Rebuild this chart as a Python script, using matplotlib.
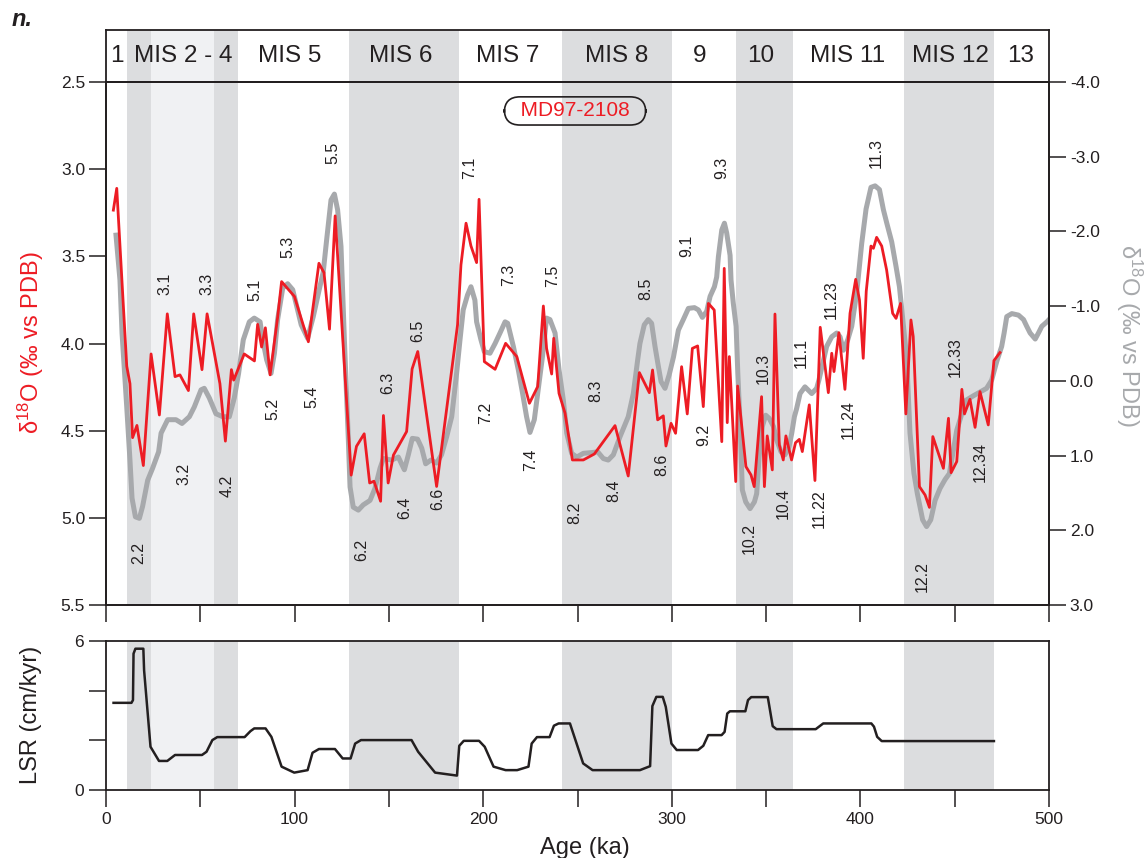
import matplotlib
matplotlib.use('Agg')
import matplotlib.pyplot as plt

plt.rcParams['font.family'] = ['Liberation Sans', 'DejaVu Sans']
plt.rcParams['mathtext.default'] = 'regular'

RED = '#ed1c24'
GRAY = '#a7a9ac'
INK = '#231f20'
BAND = '#dcdddf'
LIGHT = '#f0f1f3'

# MD97-2108 planktonic d18O (left axis)
red_age = [3.9, 5.7, 11.0, 12.7, 14.1, 16.4, 19.8, 23.9, 28.3, 32.5, 36.6, 39.2, 43.7, 46.5,
           50.9, 53.6, 60.4, 63.3, 66.5, 67.7, 73.3, 78.7, 80.4, 82.5, 84.5, 87.0, 91.0, 93.1,
           99.9, 107.3, 112.9, 115.6, 118.5, 121.5, 130.0, 132.8, 136.9, 139.8, 142.1, 145.6,
           147.1, 149.6, 152.4, 159.4, 162.3, 165.3, 175.3, 186.4, 188.2, 190.9, 193.5, 196.5,
           197.8, 200.6, 206.3, 211.9, 217.8, 224.5, 228.9, 231.9, 233.6, 236.3, 237.4, 240.2,
           243.4, 247.3, 253.1, 258.9, 269.9, 276.9, 282.8, 288.1, 289.8, 292.5, 295.5, 296.9,
           299.6, 302.0, 305.2, 308.2, 310.9, 313.7, 316.7, 319.4, 322.5, 326.5, 327.8, 329.4,
           330.5, 333.9, 334.9, 339.3, 342.0, 343.7, 347.6, 349.1, 350.6, 353.3, 354.7, 357.0,
           359.1, 360.5, 363.5, 365.6, 367.6, 369.2, 372.9, 375.9, 378.7, 383.0, 384.8, 386.0,
           388.6, 391.8, 394.5, 397.5, 399.5, 401.5, 403.1, 405.6, 406.9, 408.6, 411.3, 413.9,
           417.1, 418.9, 421.3, 424.1, 426.8, 428.0, 431.3, 434.3, 436.6, 438.4, 444.0, 446.7,
           448.1, 451.1, 453.8, 455.2, 458.1, 460.8, 463.4, 467.8, 470.8, 474.0]
red_d18o = [3.235, 3.11, 4.13, 4.23, 4.54, 4.47, 4.70, 4.06, 4.41, 3.83, 4.19, 4.18, 4.27, 3.83,
            4.15, 3.83, 4.23, 4.56, 4.15, 4.21, 4.06, 4.10, 3.89, 4.02, 3.91, 4.18, 3.85, 3.645,
            3.73, 3.99, 3.54, 3.594, 3.918, 3.268, 4.755, 4.59, 4.518, 4.80, 4.79, 4.905,
            4.413, 4.80, 4.64, 4.505, 4.146, 4.046, 4.82, 3.893, 3.549, 3.31, 3.44, 3.536,
            3.173, 4.104, 4.148, 3.999, 4.075, 4.343, 4.247, 3.785, 4.028, 4.175, 3.97, 4.286,
            4.40, 4.668, 4.668, 4.634, 4.471, 4.76, 4.167, 4.282, 4.152, 4.438, 4.415, 4.588,
            4.458, 4.515, 4.133, 4.404, 4.028, 4.014, 4.362, 3.77, 3.808, 4.563, 3.569, 4.454,
            4.075, 4.792, 4.244, 4.706, 4.754, 4.821, 4.305, 4.821, 4.53, 4.725, 3.831, 4.582,
            4.668, 4.53, 4.668, 4.569, 4.55, 4.62, 4.352, 4.786, 3.907, 4.282, 4.056, 4.161,
            3.938, 4.263, 3.827, 3.632, 3.75, 4.085, 3.70, 3.441, 3.454, 3.391, 3.441, 3.578,
            3.827, 3.856, 3.77, 4.404, 3.865, 3.96, 4.821, 4.869, 4.94, 4.534, 4.716, 4.429,
            4.741, 4.677, 4.263, 4.404, 4.32, 4.481, 4.276, 4.467, 4.098, 4.052]

# benthic stack d18O (right axis)
stack_age = [5.3, 7.4, 8.5, 11.0, 12.7, 13.8, 15.6, 17.7, 19.4, 22.1, 24.7, 27.9, 29.2, 32.7,
             37.1, 40.3, 44.2, 46.8, 50.4, 52.1, 54.8, 58.3, 61.9, 65.4, 68.0, 70.3, 72.8, 76.0,
             78.6, 81.7, 83.1, 85.2, 87.5, 89.3, 91.0, 93.7, 96.3, 99.0, 103.5, 106.9, 109.9,
             112.6, 115.2, 117.0, 119.3, 121.1, 122.8, 124.6, 126.4, 128.5, 129.4, 131.1, 133.8,
             136.4, 140.0, 142.6, 145.3, 147.1, 151.5, 155.0, 158.2, 160.3, 162.4, 165.2, 167.4,
             169.5, 172.3, 175.3, 177.9, 180.6, 183.3, 185.9, 187.7, 189.4, 191.7, 193.5, 195.6,
             196.5, 198.8, 200.6, 203.6, 206.3, 208.9, 211.6, 213.0, 216.0, 218.6, 220.9, 223.0,
             224.8, 227.1, 228.9, 231.4, 233.6, 235.4, 238.1, 240.2, 242.5, 244.3, 246.9, 249.6,
             253.1, 257.5, 260.7, 263.7, 266.3, 269.0, 272.5, 276.9, 279.6, 281.9, 283.1, 285.4,
             287.5, 289.3, 291.1, 292.9, 294.3, 296.4, 298.6, 300.9, 303.5, 306.1, 308.8, 312.0,
             314.1, 316.2, 318.5, 320.3, 322.6, 323.8, 324.7, 326.5, 327.9, 329.1, 330.9, 331.4,
             332.6, 334.1, 335.0, 336.2, 337.4, 339.2, 341.5, 343.8, 345.0, 346.3, 348.0, 349.8,
             351.6, 353.9, 355.6, 357.9, 360.0, 362.2, 363.6, 365.0, 366.2, 368.0, 370.6, 374.2,
             376.8, 378.0, 382.1, 384.8, 387.4, 389.2, 391.0, 393.3, 395.4, 398.1, 400.7, 403.0,
             405.6, 407.8, 410.1, 412.2, 414.0, 416.6, 418.9, 420.7, 422.5, 424.5, 426.3, 428.4,
             430.2, 433.0, 435.1, 437.3, 439.6, 442.2, 444.9, 447.2, 448.4, 451.1, 452.8, 456.0,
             459.9, 463.4, 466.9, 469.6, 472.3, 474.9, 476.2, 477.6, 480.3, 483.8, 486.5, 488.2,
             490.0, 492.7, 494.4, 496.2, 498.9, 500.0]
stack_d18o = [-1.95, -1.35, -0.64, 0.35, 1.06, 1.57, 1.82, 1.84, 1.68, 1.33, 1.17, 0.95, 0.70, 0.52,
              0.52, 0.57, 0.48, 0.35, 0.12, 0.10, 0.23, 0.44, 0.48, 0.48, 0.23, -0.10, -0.55, -0.79,
              -0.84, -0.79, -0.55, -0.28, -0.10, -0.37, -0.82, -1.24, -1.30, -1.22, -0.75, -0.57, -0.86,
              -1.17, -1.46, -1.89, -2.42, -2.50, -2.29, -1.80, -0.55, 0.79, 1.42, 1.69, 1.73,
              1.66, 1.60, 1.44, 1.17, 1.04, 1.06, 1.02, 1.19, 0.99, 0.77, 0.78, 0.90,
              1.11, 1.06, 1.10, 0.99, 0.75, 0.48, -0.10, -0.55, -0.95, -1.15, -1.26, -1.08,
              -0.79, -0.55, -0.39, -0.37, -0.50, -0.64, -0.79, -0.77, -0.46, -0.15, 0.17, 0.48,
              0.69, 0.52, 0.17, -0.32, -0.84, -0.82, -0.64, -0.15, 0.26, 0.70, 0.97, 1.02,
              0.97, 0.96, 0.95, 1.04, 1.06, 0.99, 0.75, 0.48, 0.17, -0.28, -0.50, -0.75,
              -0.82, -0.77, -0.46, -0.19, 0.01, 0.10, -0.08, -0.32, -0.68, -0.82, -0.97, -0.98,
              -0.95, -0.85, -0.93, -1.13, -1.26, -1.39, -1.66, -2.02, -2.11, -1.98, -1.68, -1.35,
              -1.04, -0.73, -0.10, 0.57, 1.46, 1.62, 1.71, 1.62, 1.51, 1.02, 0.61, 0.46,
              0.50, 0.61, 0.79, 0.95, 0.99, 0.88, 0.70, 0.48, 0.37, 0.17, 0.08, 0.17,
              0.10, -0.01, -0.46, -0.59, -0.64, -0.59, -0.41, -0.55, -0.73, -1.19, -1.84, -2.30,
              -2.59, -2.61, -2.56, -2.29, -2.11, -1.86, -1.53, -1.26, -0.82, -0.32, 0.70, 1.24,
              1.51, 1.86, 1.95, 1.86, 1.60, 1.44, 1.32, 1.24, 1.06, 0.66, 0.52, 0.26,
              0.20, 0.15, 0.10, -0.01, -0.26, -0.46, -0.64, -0.86, -0.90, -0.88, -0.82, -0.73,
              -0.64, -0.56, -0.64, -0.73, -0.79, -0.82]

# linear sedimentation rate
lsr_age = [4.0, 13.5, 14.3, 14.6, 15.6, 19.8, 20.2, 23.6, 28.1, 32.5, 36.6, 50.9, 53.3, 56.4,
           59.0, 73.5, 76.6, 78.6, 84.6, 87.7, 93.1, 99.8, 106.9, 109.5, 112.9, 121.4, 125.5,
           129.7, 132.1, 135.2, 162.0, 165.5, 174.5, 186.1, 187.3, 189.7, 197.8, 200.8, 205.5,
           211.9, 218.0, 224.0, 225.7, 228.5, 235.2, 237.5, 240.0, 246.0, 253.0, 258.0, 283.1,
           288.5, 289.7, 291.8, 295.2, 296.8, 299.8, 302.6, 313.9, 316.7, 319.3, 326.4, 328.0,
           329.4, 330.8, 339.0, 340.4, 342.1, 350.9, 353.5, 355.5, 376.3, 380.3, 405.8, 407.2,
           408.9, 411.3, 470.8]
lsr_rate = [3.51, 3.51, 3.62, 5.49, 5.69, 5.69, 4.82, 1.74, 1.17, 1.17, 1.41, 1.41, 1.54, 2.01,
            2.13, 2.13, 2.37, 2.48, 2.48, 2.14, 0.94, 0.70, 0.80, 1.50, 1.65, 1.65, 1.27,
            1.27, 1.87, 2.01, 2.01, 1.54, 0.70, 0.58, 1.78, 1.98, 1.98, 1.74, 0.94,
            0.80, 0.80, 0.94, 1.87, 2.13, 2.13, 2.59, 2.68, 2.68, 1.07, 0.80, 0.80,
            0.96, 3.38, 3.75, 3.75, 3.35, 1.87, 1.61, 1.61, 1.78, 2.21, 2.21, 2.34,
            3.08, 3.17, 3.17, 3.62, 3.74, 3.74, 2.57, 2.45, 2.45, 2.68, 2.68, 2.55,
            2.14, 1.97, 1.97]

# marine isotope stages
glacial_bands = [(11, 24), (57, 70), (129, 187), (242, 300), (334, 364), (423, 471)]
mis3_band = (24, 57)
mis_names = ['1', 'MIS 2 - 4', 'MIS 5', 'MIS 6', 'MIS 7', 'MIS 8', '9', '10',
             'MIS 11', 'MIS 12', '13']
mis_centers = [6, 41, 97.5, 156, 213, 271, 315, 347, 393, 447.5, 485]

# substage labels: (name, age, d18O)
substages = [('2.2', 17.1, 5.20), ('3.1', 31.3, 3.66), ('3.2', 41.4, 4.75), ('3.3', 53.4, 3.66),
             ('4.2', 64.3, 4.815), ('5.1', 79.0, 3.69), ('5.2', 88.7, 4.377), ('5.3', 96.3, 3.444),
             ('5.4', 109.4, 4.308), ('5.5', 120.5, 2.909), ('6.2', 135.6, 5.183),
             ('6.3', 149.2, 4.228), ('6.4', 158.5, 4.944), ('6.5', 165.3, 3.928),
             ('6.6', 175.7, 4.891), ('7.1', 193.0, 2.995), ('7.2', 201.3, 4.40),
             ('7.3', 213.3, 3.607), ('7.4', 225.2, 4.667), ('7.5', 236.8, 3.612),
             ('8.2', 248.7, 4.97), ('8.3', 259.5, 4.272), ('8.4', 269.0, 4.843),
             ('8.5', 286.2, 3.687), ('8.6', 294.6, 4.696), ('9.1', 307.9, 3.44),
             ('9.2', 316.7, 4.524), ('9.3', 326.5, 2.991), ('10.2', 341.1, 5.116),
             ('10.3', 348.5, 4.142), ('10.4', 359.1, 4.916), ('11.1', 368.9, 4.056),
             ('11.22', 378.1, 4.95), ('11.23', 384.4, 3.75), ('11.24', 393.3, 4.438),
             ('11.3', 408.6, 2.909), ('12.2', 433.0, 5.336), ('12.33', 450.5, 4.079),
             ('12.34', 463.4, 4.677)]


def shade(a):
    for lo, hi in glacial_bands:
        a.axvspan(lo, hi, color=BAND, lw=0, zorder=0)
    a.axvspan(*mis3_band, color=LIGHT, lw=0, zorder=0)


def frame(a, lw=1.3):
    for s in a.spines.values():
        s.set_linewidth(lw)
        s.set_color(INK)


fig = plt.figure(figsize=(11.47, 8.58), dpi=100)
L, W = 106 / 1147, 943 / 1147
ax_head = fig.add_axes([L, 1 - 82 / 858, W, 52 / 858])
ax = fig.add_axes([L, 1 - 605 / 858, W, 523 / 858])
ax_lsr = fig.add_axes([L, 1 - 790 / 858, W, 149 / 858])

# stage header
shade(ax_head)
ax_head.set_xlim(0, 500)
ax_head.set_ylim(0, 1)
ax_head.set_xticks([])
ax_head.set_yticks([])
frame(ax_head)
for name, xc in zip(mis_names, mis_centers):
    ax_head.text(xc, 0.5, name, ha='center', va='center', fontsize=17.5, color=INK)

# isotope panel: stack on the twin axis underneath, core record on top
ax2 = ax.twinx()
ax.set_zorder(ax2.get_zorder() + 1)
ax.patch.set_visible(False)
shade(ax2)
ax2.plot(stack_age, stack_d18o, color=GRAY, lw=3.6, solid_joinstyle='round')
ax2.set_ylim(3.0, -4.0)
ax2.set_yticks([-4, -3, -2, -1, 0, 1, 2, 3])
ax2.set_yticklabels([f'{v:.1f}' for v in [-4, -3, -2, -1, 0, 1, 2, 3]])
ax2.tick_params(axis='y', direction='out', length=12, width=1.1, labelsize=12.5, pad=3,
                colors=INK)
frame(ax2)

ax.plot(red_age, red_d18o, color=RED, lw=2.0)
ax.set_xlim(0, 500)
ax.set_ylim(5.5, 2.5)
ax.set_yticks([2.5, 3.0, 3.5, 4.0, 4.5, 5.0, 5.5])
ax.set_yticklabels([f'{v:.1f}' for v in [2.5, 3.0, 3.5, 4.0, 4.5, 5.0, 5.5]])
ax.set_xticks(range(0, 501, 50))
ax.tick_params(axis='x', direction='out', length=12, width=1.1, labelbottom=False,
               colors=INK)
ax.tick_params(axis='y', direction='out', length=12, width=1.1, labelsize=12.5, pad=3,
               colors=INK)
frame(ax)

for name, age, val in substages:
    ax.text(age, val, name, rotation=90, ha='center', va='center', fontsize=11.5, color=INK)

ax.text(248.7, 2.666, '  MD97-2108  ', color=RED, fontsize=15, ha='center', va='center',
        bbox=dict(boxstyle='round,pad=0.22,rounding_size=0.75', fc='none', ec=INK, lw=1.2))

# sedimentation rate panel
shade(ax_lsr)
ax_lsr.plot(lsr_age, lsr_rate, color=INK, lw=1.8)
ax_lsr.set_xlim(0, 500)
ax_lsr.set_ylim(0, 6)
ax_lsr.set_yticks([0, 2, 4, 6])
ax_lsr.set_yticklabels(['0', '', '', '6'])
ax_lsr.set_xticks(range(0, 501, 50))
ax_lsr.set_xticklabels([str(v) if v % 100 == 0 else '' for v in range(0, 501, 50)])
ax_lsr.tick_params(direction='out', length=12, width=1.1, labelsize=12.5, pad=4, colors=INK)
frame(ax_lsr)

# axis titles
fig.text(31 / 1147, 1 - 343 / 858, r'δ$^{18}$O (‰ vs PDB)', rotation=90, ha='center',
         va='center', fontsize=17, color=RED)
fig.text(1129 / 1147, 1 - 335 / 858, r'δ$^{18}$O (‰ vs PDB)', rotation=270, ha='center',
         va='center', fontsize=17, color=GRAY)
fig.text(31 / 1147, 1 - 715 / 858, 'LSR (cm/kyr)', rotation=90, ha='center', va='center',
         fontsize=17, color=INK)
fig.text(585 / 1147, 1 - 848 / 858, 'Age (ka)', ha='center', va='center', fontsize=17,
         color=INK)
fig.text(12 / 1147, 1 - 20 / 858, 'n.', ha='left', va='center', fontsize=17,
         fontweight='bold', fontstyle='italic', color=INK)

fig.savefig('out.png', dpi=100)
